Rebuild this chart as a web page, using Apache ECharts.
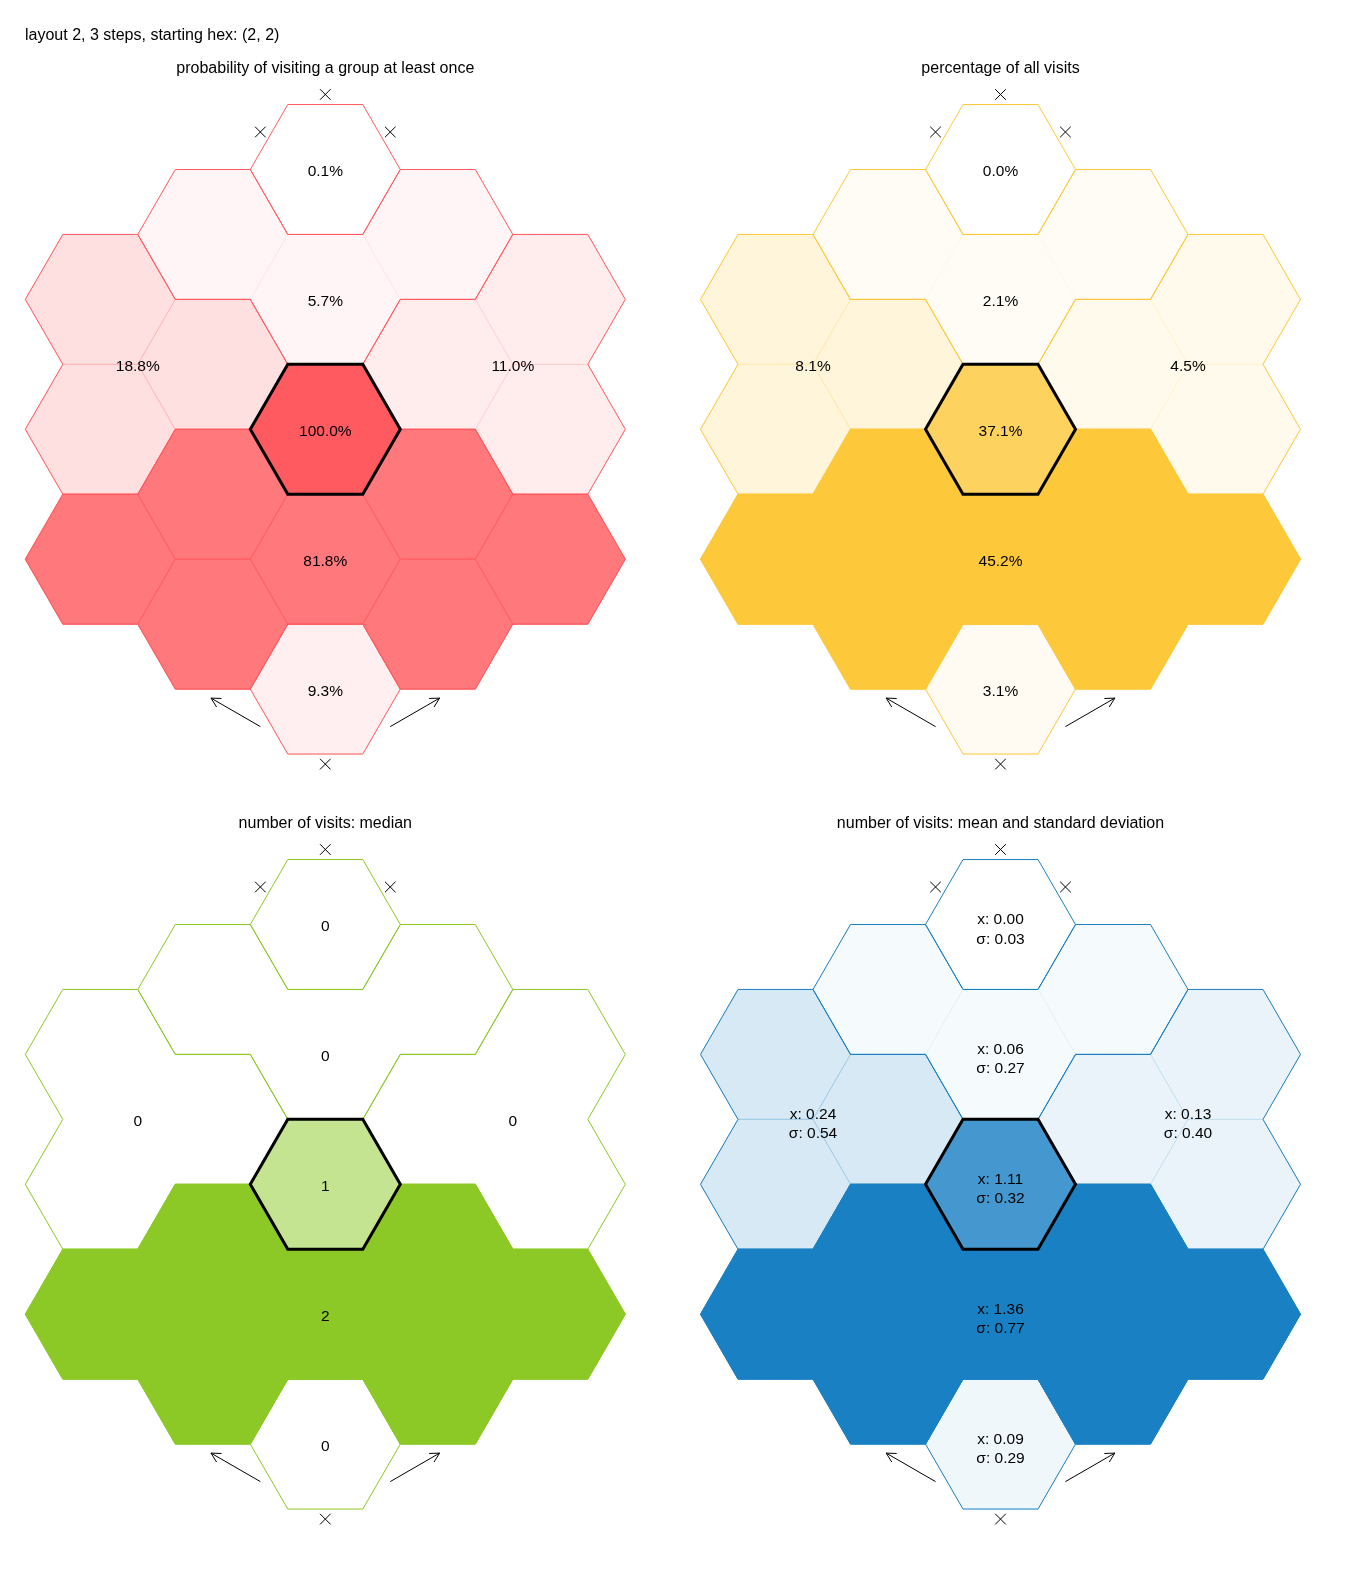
<!DOCTYPE html>
<html><head><meta charset="utf-8">
<script src="https://cdn.jsdelivr.net/npm/echarts@6/dist/echarts.min.js"></script>
<style>html,body{margin:0;padding:0;background:#fff}#main{width:1350px;height:1583px}</style>
</head><body><div id="main"></div>
<script>
// ---------------- data ----------------
const mainTitle = 'layout 2, 3 steps, starting hex: (2, 2)';
const panelTitles = [
  'probability of visiting a group at least once',
  'percentage of all visits',
  'number of visits: median',
  'number of visits: mean and standard deviation'
];
// groups: 0 top, 1 upper, 2 left, 3 right, 4 start, 5 lower, 6 bottom
const groupNames = ['top', 'upper', 'left', 'right', 'start', 'lower', 'bottom'];
// hex grid (flat-top), column index and row index in half-hex steps (row up = positive)
const hexCol   = [0, 0, 0, 0, 0, -1, -1, -1, -1, 1, 1, 1, 1, -2, -2, -2, 2, 2, 2];
const hexRow   = [4, 2, 0, -2, -4, 3, 1, -1, -3, 3, 1, -1, -3, 2, 0, -2, 2, 0, -2];
const hexGroup = [0, 1, 4, 5, 6, 1, 2, 5, 5, 1, 3, 5, 5, 2, 2, 5, 3, 3, 5];
// hex that carries the group's label (-1 = centroid of the group)
const groupLabelHex = [-1, 1, -1, -1, -1, -1, -1];
const startGroup = 4;
const probVisit    = [0.1, 5.7, 18.8, 11.0, 100.0, 81.8, 9.3];
const pctVisits    = [0.0, 2.1, 8.1, 4.5, 37.1, 45.2, 3.1];
const medianVisits = [0, 0, 0, 0, 1, 2, 0];
const meanVisits   = [0.00, 0.06, 0.24, 0.13, 1.11, 1.36, 0.09];
const sdVisits     = [0.03, 0.27, 0.54, 0.40, 0.32, 0.77, 0.29];
// neighbour directions: 0 up-right, 1 up, 2 up-left, 3 down-left, 4 down, 5 down-right
const blockedMoves = [[0, 0], [0, 1], [0, 2], [4, 4]];          // [hex index, direction]
const wrapMoves    = [[4, 3, 2], [4, 5, 0]];                     // [hex index, exit direction, arrow direction]

// ---------------- helpers ----------------
const SQ3 = Math.sqrt(3);
const DIR_DEG = [30, 90, 150, 210, 270, 330];
const NB = [[1, 1], [0, 2], [-1, 1], [-1, -1], [0, -2], [1, -1]];
const hexX = hexCol.map(c => 1.5 * c);
const hexY = hexRow.map(r => r * SQ3 / 2);
function hexAt(c, r) {
  for (let i = 0; i < hexCol.length; i++) if (hexCol[i] === c && hexRow[i] === r) return i;
  return -1;
}
function dirVec(d) { const a = DIR_DEG[d] * Math.PI / 180; return [Math.cos(a), Math.sin(a)]; }
const FONT = '"Liberation Sans", Arial, sans-serif';

const panels = [
  { vals: probVisit, rgb: [255, 90, 95], fmt: g => probVisit[g].toFixed(1) + '%' },
  { vals: pctVisits, rgb: [253, 200, 58], fmt: g => pctVisits[g].toFixed(1) + '%' },
  { vals: medianVisits, rgb: [140, 201, 38], fmt: g => String(medianVisits[g]) },
  { vals: meanVisits, rgb: [26, 128, 196], fmt: g => 'x: ' + meanVisits[g].toFixed(2) + '\nσ: ' + sdVisits[g].toFixed(2) }
];
const gridPos = [[25.3, 54.3], [700.5, 54.3], [25.3, 809.3], [700.5, 809.3]];

const hexData = hexCol.map((c, i) => [hexX[i], hexY[i], i]);
const labelAnchors = groupNames.map((n, g) => {
  const h = groupLabelHex[g];
  if (h >= 0) return [hexX[h], hexY[h], g];
  let sx = 0, sy = 0, k = 0;
  hexGroup.forEach((hg, i) => { if (hg === g) { sx += hexX[i]; sy += hexY[i]; k++; } });
  return [sx / k, sy / k, g];
});
const crossData = blockedMoves.map(([h, d]) => { const v = dirVec(d); return [hexX[h] + v[0], hexY[h] + v[1]]; });
const arrowData = wrapMoves.map(([h, d1, d2]) => {
  const v1 = dirVec(d1), v2 = dirVec(d2);
  const sx = hexX[h] + v1[0], sy = hexY[h] + v1[1];
  return [sx, sy, sx + 0.76 * v2[0], sy + 0.76 * v2[1]];
});

function hexPts(api, x, y) {
  const pts = [];
  for (let k = 0; k < 6; k++) {
    const a = k * Math.PI / 3;
    pts.push(api.coord([x + Math.cos(a), y + Math.sin(a)]));
  }
  return pts;
}

const grids = [], xAxes = [], yAxes = [], series = [], graphics = [];
graphics.push({ type: 'text', x: 25, y: 35.8, style: { text: mainTitle, font: '16px ' + FONT, fill: '#000', textAlign: 'left', textVerticalAlign: 'middle' } });

panels.forEach((p, pi) => {
  const [gl, gt] = gridPos[pi];
  grids.push({ left: gl, top: gt, width: 600, height: 750, show: false });
  xAxes.push({ type: 'value', gridIndex: pi, min: -4, max: 4, show: false });
  yAxes.push({ type: 'value', gridIndex: pi, min: -5, max: 5, show: false });
  graphics.push({ type: 'text', x: gl + 300, y: gt + 14.2, style: { text: panelTitles[pi], font: '16px ' + FONT, fill: '#000', textAlign: 'center', textVerticalAlign: 'middle' } });
  const maxV = Math.max(...p.vals);
  const col = g => { const a = maxV > 0 ? p.vals[g] / maxV : 0; return 'rgba(' + p.rgb.join(',') + ',' + a.toFixed(4) + ')'; };
  const solid = 'rgb(' + p.rgb.join(',') + ')';
  // fills
  series.push({
    type: 'custom', xAxisIndex: pi, yAxisIndex: pi, data: hexData, z: 1, silent: true,
    renderItem: (params, api) => {
      const i = api.value(2), g = hexGroup[i];
      const c = col(g);
      return { type: 'polygon', shape: { points: hexPts(api, api.value(0), api.value(1)) }, style: { fill: c, stroke: c, lineWidth: 1 } };
    }
  });
  // group boundaries
  series.push({
    type: 'custom', xAxisIndex: pi, yAxisIndex: pi, data: hexData, z: 2, silent: true,
    renderItem: (params, api) => {
      const i = api.value(2), g = hexGroup[i];
      const pts = hexPts(api, api.value(0), api.value(1));
      const children = [];
      for (let k = 0; k < 6; k++) {
        const n = hexAt(hexCol[i] + NB[k][0], hexRow[i] + NB[k][1]);
        if (n < 0 || hexGroup[n] !== g) {
          const a = pts[k], b = pts[(k + 1) % 6];
          children.push({ type: 'line', shape: { x1: a[0], y1: a[1], x2: b[0], y2: b[1] }, style: { stroke: solid, lineWidth: 1 } });
        }
      }
      return { type: 'group', children };
    }
  });
  // start hex outline
  series.push({
    type: 'custom', xAxisIndex: pi, yAxisIndex: pi, z: 3, silent: true,
    data: hexData.filter(d => hexGroup[d[2]] === startGroup),
    renderItem: (params, api) => ({ type: 'polygon', shape: { points: hexPts(api, api.value(0), api.value(1)) }, style: { fill: 'none', stroke: '#000', lineWidth: 3, lineJoin: 'miter' } })
  });
  // labels
  series.push({
    type: 'custom', xAxisIndex: pi, yAxisIndex: pi, z: 4, silent: true, data: labelAnchors,
    renderItem: (params, api) => {
      const pt = api.coord([api.value(0), api.value(1)]);
      const txt = p.fmt(api.value(2));
      return { type: 'text', x: pt[0], y: pt[1] + (txt.indexOf('\n') >= 0 ? 5 : 2.3), style: { text: txt, font: '15.5px ' + FONT, fill: '#000', textAlign: 'center', textVerticalAlign: 'middle', lineHeight: 19.5 } };
    }
  });
  // blocked moves (x)
  series.push({
    type: 'custom', xAxisIndex: pi, yAxisIndex: pi, z: 4, silent: true, data: crossData,
    renderItem: (params, api) => {
      const pt = api.coord([api.value(0), api.value(1)]);
      const s = 5.3;
      return { type: 'group', children: [
        { type: 'line', shape: { x1: pt[0] - s, y1: pt[1] - s, x2: pt[0] + s, y2: pt[1] + s }, style: { stroke: '#000', lineWidth: 1 } },
        { type: 'line', shape: { x1: pt[0] - s, y1: pt[1] + s, x2: pt[0] + s, y2: pt[1] - s }, style: { stroke: '#000', lineWidth: 1 } }
      ] };
    }
  });
  // wrap-around arrows
  series.push({
    type: 'custom', xAxisIndex: pi, yAxisIndex: pi, z: 4, silent: true, data: arrowData,
    renderItem: (params, api) => {
      const a = api.coord([api.value(0), api.value(1)]);
      const b = api.coord([api.value(2), api.value(3)]);
      const ang = Math.atan2(b[1] - a[1], b[0] - a[0]);
      const L = 10.5, h = 28 * Math.PI / 180;
      const p1 = [b[0] - L * Math.cos(ang - h), b[1] - L * Math.sin(ang - h)];
      const p2 = [b[0] - L * Math.cos(ang + h), b[1] - L * Math.sin(ang + h)];
      return { type: 'group', children: [
        { type: 'line', shape: { x1: a[0], y1: a[1], x2: b[0], y2: b[1] }, style: { stroke: '#000', lineWidth: 1 } },
        { type: 'polyline', shape: { points: [p1, b, p2] }, style: { stroke: '#000', fill: 'none', lineWidth: 1 } }
      ] };
    }
  });
});

const chart = echarts.init(document.getElementById('main'));
chart.setOption({
  backgroundColor: '#fff',
  animation: false,
  grid: grids, xAxis: xAxes, yAxis: yAxes,
  graphic: graphics,
  series: series
});
</script></body></html>
